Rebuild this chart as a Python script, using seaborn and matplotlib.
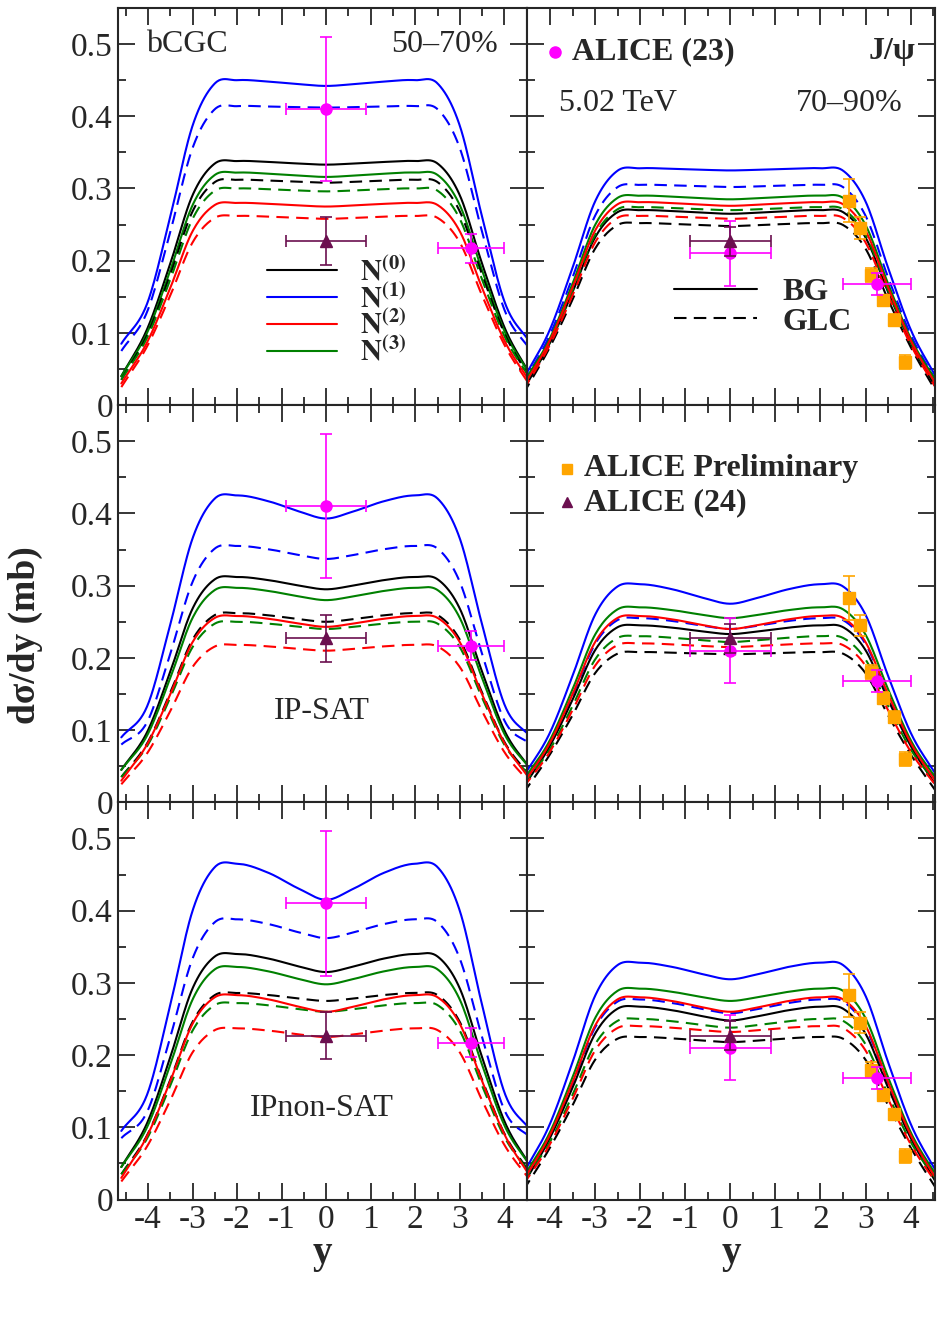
import numpy as np
import pandas as pd
import matplotlib
matplotlib.use("Agg")
import matplotlib.pyplot as plt
import seaborn as sns
from matplotlib.lines import Line2D

sns.set_style("ticks")
plt.rcParams['font.family'] = ['Liberation Serif', 'DejaVu Serif']
plt.rcParams['mathtext.fontset'] = 'stix'

# --- data -----------------------------------------------------------------
FALL = [0.99, 0.86, 0.58, 0.32]
series_order = [("N1", "solid"), ("N1", "dash"), ("N0", "solid"), ("N3", "solid"),
                ("N0", "dash"), ("N3", "dash"), ("N2", "solid"), ("N2", "dash")]
bcgc_5070 = [(.442, .450, .085), (.412, .414, .075), (.333, .338, .040), (.316, .322, .040),
             (.308, .312, .035), (.296, .300, .035), (.275, .280, .030), (.258, .262, .025)]
bcgc_7090 = [(.325, .328, .035), (.302, .305, .030), (.265, .270, .020), (.285, .290, .030),
             (.248, .252, .015), (.270, .274, .025), (.276, .281, .025), (.258, .262, .020)]
ipsat_5070 = [(.393, .425, .090), (.337, .355, .080), (.295, .312, .045), (.280, .297, .045),
              (.250, .262, .035), (.240, .250, .035), (.243, .258, .030), (.210, .218, .025)]
ipsat_7090 = [(.275, .302, .035), (.240, .255, .030), (.233, .245, .020), (.255, .270, .030),
              (.205, .208, .012), (.222, .230, .025), (.240, .258, .025), (.215, .220, .020)]
ipns_5070 = [(.415, .465, .095), (.362, .388, .085), (.315, .340, .045), (.298, .322, .045),
             (.275, .286, .035), (.260, .272, .035), (.260, .283, .030), (.225, .237, .025)]
ipns_7090 = [(.305, .328, .035), (.258, .277, .030), (.248, .267, .020), (.275, .292, .030),
             (.218, .225, .012), (.238, .250, .025), (.260, .280, .025), (.232, .240, .020)]
panels = [[bcgc_5070, bcgc_7090], [ipsat_5070, ipsat_7090], [ipns_5070, ipns_7090]]

a23_left_x = [0.0, 3.25]; a23_left_y = [0.41, 0.217]; a23_left_xe = [0.9, 0.75]; a23_left_ye = [0.10, 0.02]
a23_right_x = [0.0, 3.25]; a23_right_y = [0.21, 0.168]; a23_right_xe = [0.9, 0.75]; a23_right_ye = [0.045, 0.015]
a24_left = (0.0, 0.227, 0.9, 0.033)
a24_right = (0.0, 0.227, 0.9, 0.02)
pre_x = [2.63, 2.88, 3.13, 3.38, 3.63, 3.88]
pre_y = [0.283, 0.245, 0.180, 0.145, 0.118, 0.060]
pre_ye = [0.030, 0.015, 0.010, 0.008, 0.008, 0.010]

colors = {"N0": "black", "N1": "#0000ff", "N2": "#ff0000", "N3": "#008000"}
MAG, PUR, ORA = "#ff00ff", "#6b0f4f", "#ffa500"

xnodes_half = [0, 0.6, 1.3, 2, 2.5, 3, 3.5, 4, 4.6]

def hermite(xn, yn, n=400):
    xn = np.asarray(xn, float); yn = np.asarray(yn, float)
    xs = np.linspace(xn[0], xn[-1], n)
    m = np.gradient(yn, xn)
    out = np.empty_like(xs)
    for i, x in enumerate(xs):
        k = min(np.searchsorted(xn, x, side='right') - 1, len(xn) - 2)
        h = xn[k+1] - xn[k]; t = (x - xn[k]) / h
        h00 = 2*t**3 - 3*t**2 + 1; h10 = t**3 - 2*t**2 + t
        h01 = -2*t**3 + 3*t**2; h11 = t**3 - t**2
        out[i] = h00*yn[k] + h10*h*m[k] + h01*yn[k+1] + h11*h*m[k+1]
    return xs, out

def curve(c, s, e):
    half = [c, c + 0.3*(s - c), c + 0.75*(s - c), s] + [s*f for f in FALL] + [e]
    xn = [-v for v in xnodes_half[::-1]] + xnodes_half[1:]
    yn = half[::-1] + half[1:]
    return hermite(xn, yn)

fig, axes = plt.subplots(3, 2, figsize=(9.42, 13.24), dpi=100)
fig.subplots_adjust(left=0.125, right=0.993, top=0.994, bottom=0.094, hspace=0, wspace=0)

for r in range(3):
    for cidx in range(2):
        ax = axes[r, cidx]
        for (name, sty), (c, s, e) in zip(series_order, panels[r][cidx]):
            xs, ys = curve(c, s, e)
            df = pd.DataFrame({"y": xs, "v": ys})
            sns.lineplot(data=df, x="y", y="v", ax=ax, color=colors[name], lw=1.5,
                         linestyle="-" if sty == "solid" else (0, (6, 3.5)), sort=False,
                         estimator=None)
        ek = dict(fmt='none', capsize=4, elinewidth=1.2, capthick=1.2)
        if cidx == 0:
            ax.errorbar(a23_left_x, a23_left_y, xerr=a23_left_xe, yerr=a23_left_ye, ecolor=MAG, **ek)
            ax.plot(a23_left_x, a23_left_y, 'o', color=MAG, ms=8)
            ax.errorbar([a24_left[0]], [a24_left[1]], xerr=[a24_left[2]], yerr=[a24_left[3]], ecolor=PUR, **ek)
            ax.plot([a24_left[0]], [a24_left[1]], '^', color=PUR, ms=8)
        else:
            ax.errorbar(pre_x, pre_y, yerr=pre_ye, ecolor=ORA, **ek)
            ax.plot(pre_x, pre_y, 's', color=ORA, ms=8)
            ax.errorbar(a23_right_x, a23_right_y, xerr=a23_right_xe, yerr=a23_right_ye, ecolor=MAG, **ek)
            ax.plot(a23_right_x, a23_right_y, 'o', color=MAG, ms=8)
            ax.errorbar([a24_right[0]], [a24_right[1]], xerr=[a24_right[2]], yerr=[a24_right[3]], ecolor=PUR, **ek)
            ax.plot([a24_right[0]], [a24_right[1]], '^', color=PUR, ms=8)
        ax.set_xlim(-4.68 if cidx == 0 else -4.52, 4.5 if cidx == 0 else 4.55)
        ax.set_ylim(0, 0.55)
        ax.set_xticks(np.arange(-4, 5, 1)); ax.set_xticks(np.arange(-4.5, 4.6, 0.5), minor=True)
        ax.set_yticks(np.arange(0, 0.51, 0.1)); ax.set_yticks(np.arange(0, 0.55, 0.05), minor=True)
        ax.tick_params(which='both', direction='in', top=True, right=True, width=1.3)
        ax.tick_params(which='major', length=12, labelsize=24)
        ax.tick_params(which='minor', length=6)
        for sp in ax.spines.values():
            sp.set_linewidth(1.5)
        ax.set_xlabel(""); ax.set_ylabel("")
        if cidx == 0:
            ax.set_yticklabels(["0", "0.1", "0.2", "0.3", "0.4", "0.5"])
        else:
            ax.set_yticklabels([])
        if r == 2:
            ax.set_xticklabels([str(v) for v in range(-4, 5)])
            ax.set_xlabel("y", fontsize=28, fontweight='bold', labelpad=0)
        else:
            ax.set_xticklabels([])

fs = 23
a = axes[0, 0]
a.text(0.07, 0.89, "bCGC", transform=a.transAxes, fontsize=fs)
a.text(0.93, 0.89, "50–70%", transform=a.transAxes, fontsize=fs, ha='right')
h = [Line2D([], [], color=colors[k], lw=1.5) for k in ["N0", "N1", "N2", "N3"]]
a.legend(h, [r"$\mathbf{N^{(%d)}}$" % i for i in range(4)], loc='lower left',
         bbox_to_anchor=(0.3, 0.03), frameon=False, fontsize=21, handlelength=2.4,
         labelspacing=-0.1, handletextpad=0.8)

a = axes[0, 1]
a.plot([0.07], [0.89], 'o', color=MAG, ms=8, transform=a.transAxes, clip_on=False)
a.text(0.11, 0.89, "ALICE (23)", transform=a.transAxes, fontsize=fs, fontweight='bold', va='center')
a.text(0.95, 0.89, "J/ψ", transform=a.transAxes, fontsize=fs, fontweight='bold', ha='right', va='center')
a.text(0.08, 0.76, "5.02 TeV", transform=a.transAxes, fontsize=fs, va='center')
a.text(0.92, 0.76, "70–90%", transform=a.transAxes, fontsize=fs, ha='right', va='center')
h2 = [Line2D([], [], color='black', lw=1.5), Line2D([], [], color='black', lw=1.5, linestyle=(0, (6, 3.5)))]
a.legend(h2, ["BG", "GLC"], loc='lower left', bbox_to_anchor=(0.29, 0.1), frameon=False,
         prop={'size': fs, 'weight': 'bold'}, handlelength=2.6, labelspacing=0.0, handletextpad=0.8)

a = axes[1, 1]
a.plot([0.1], [0.84], 's', color=ORA, ms=7, transform=a.transAxes)
a.text(0.14, 0.84, "ALICE Preliminary", transform=a.transAxes, fontsize=fs, fontweight='bold', va='center')
a.plot([0.1], [0.755], '^', color=PUR, ms=7, transform=a.transAxes)
a.text(0.14, 0.755, "ALICE (24)", transform=a.transAxes, fontsize=fs, fontweight='bold', va='center')

axes[1, 0].text(0.5, 0.21, "IP-SAT", transform=axes[1, 0].transAxes, fontsize=fs, ha='center')
axes[2, 0].text(0.5, 0.21, "IPnon-SAT", transform=axes[2, 0].transAxes, fontsize=fs, ha='center')

fig.text(0.027, 0.52, "dσ/dy (mb)", rotation=90, fontsize=27, fontweight='bold', ha='center', va='center')

fig.savefig("out.png", dpi=100)
